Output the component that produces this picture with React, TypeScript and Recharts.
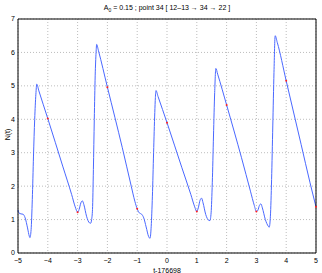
import { ComposedChart, Line, Scatter, XAxis, YAxis, CartesianGrid } from "recharts";

const tVals = [
  -5.0, -4.97, -4.9, -4.83, -4.76, -4.68, -4.62, -4.6, -4.56, -4.52, -4.48, -4.44, -4.4, -4.37, -4.3,
  -4.0, -3.5, -3.2, -3.08, -3.0, -2.95, -2.89, -2.84, -2.79, -2.7, -2.6, -2.56, -2.53, -2.5, -2.47,
  -2.44, -2.41, -2.38, -2.36, -2.3, -2.0, -1.5, -1.2, -1.08, -1.0, -0.93, -0.85, -0.78, -0.7, -0.62,
  -0.57, -0.53, -0.49, -0.45, -0.41, -0.39, -0.37, -0.3, 0.0, 0.5, 0.8, 0.93, 1.0, 1.05, 1.11, 1.16,
  1.21, 1.3, 1.4, 1.44, 1.48, 1.52, 1.56, 1.6, 1.64, 1.7, 2.0, 2.5, 2.8, 2.93, 3.0, 3.05, 3.1, 3.15,
  3.2, 3.3, 3.4, 3.43, 3.47, 3.51, 3.55, 3.59, 3.63, 3.7, 4.0, 4.5, 4.8, 5.0,
];
const nVals = [
  1.29, 1.2, 1.17, 1.16, 1.05, 0.75, 0.5, 0.46, 0.7, 1.6, 2.9, 4.0, 4.75, 5.05, 4.85,
  4.02, 2.6, 1.75, 1.38, 1.22, 1.3, 1.5, 1.56, 1.45, 1.1, 0.9, 0.89, 1.0, 1.3, 2.5,
  4.0, 5.3, 6.0, 6.24, 6.05, 4.96, 3.15, 2.0, 1.55, 1.32, 1.2, 1.16, 1.05, 0.78, 0.5,
  0.44, 0.8, 1.7, 3.0, 4.2, 4.65, 4.86, 4.68, 3.9, 2.55, 1.75, 1.38, 1.24, 1.35, 1.58, 1.64,
  1.5, 1.15, 0.98, 0.97, 1.2, 2.1, 3.5, 4.8, 5.52, 5.35, 4.43, 2.85, 1.85, 1.42, 1.24, 1.28, 1.42, 1.47,
  1.35, 1.0, 0.8, 0.77, 1.1, 2.2, 3.8, 5.4, 6.5, 6.3, 5.15, 3.25, 2.1, 1.38,
];

const markT = [-4, -3, -2, -1, 0, 1, 2, 3, 4, 5];
const markN = [4.02, 1.22, 4.96, 1.32, 3.9, 1.24, 4.43, 1.24, 5.15, 1.38];

const xTicks = [-5, -4, -3, -2, -1, 0, 1, 2, 3, 4, 5];
const yTicks = [0, 1, 2, 3, 4, 5, 6, 7];

const curve = tVals.map((t, i) => ({ t, n: nVals[i] }));
const marks = markT.map((t, i) => ({ t, n: markN[i] }));

const font = "'Liberation Sans', Arial, sans-serif";
const fmt = (v: number) => (v < 0 ? "\u2212" + Math.abs(v) : String(v));

export default function App() {
  return (
    <div style={{ position: "absolute", left: 0, top: 0, width: 322, height: 273, background: "#fff", fontFamily: font }}>
      <div style={{ position: "absolute", left: 18, width: 298, top: 4, textAlign: "center", fontSize: 7, color: "#000" }}>
        A<sub style={{ fontSize: 5 }}>0</sub> = 0.15 ; point 34 [ 12–13 → 34 → 22 ]
      </div>
      <div style={{ position: "absolute", left: -13, width: 40, top: 131, textAlign: "center", fontSize: 7, color: "#000", transform: "rotate(-90deg)" }}>
        N(t)
      </div>
      <ComposedChart width={322} height={273} data={curve} margin={{ top: 19, right: 6, bottom: 0, left: 0 }}>
        <CartesianGrid stroke="#bdbdbd" strokeDasharray="1 2" />
        <XAxis
          dataKey="t" type="number" domain={[-5, 5]} ticks={xTicks} height={20}
          tickFormatter={fmt} tickLine={false} tickSize={3} tickMargin={2}
          axisLine={{ stroke: "#000" }} tick={{ fontSize: 7, fill: "#000", fontFamily: font }}
          label={{ value: "t-176698", position: "insideBottom", offset: 0, fontSize: 7, fill: "#000", fontFamily: font }}
        />
        <XAxis xAxisId="bt" dataKey="t" type="number" domain={[-5, 5]} ticks={xTicks} mirror tick={false} tickSize={3} axisLine={false} tickLine={{ stroke: "#000" }} />
        <XAxis xAxisId="top" orientation="top" dataKey="t" type="number" domain={[-5, 5]} ticks={xTicks} mirror tick={false} tickSize={3} axisLine={{ stroke: "#000" }} tickLine={{ stroke: "#000" }} />
        <YAxis
          type="number" domain={[0, 7]} ticks={yTicks} width={18} tickLine={false} tickSize={2} tickMargin={1}
          axisLine={{ stroke: "#000" }} tick={{ fontSize: 7, fill: "#000", fontFamily: font }}
        />
        <YAxis yAxisId="lt" type="number" domain={[0, 7]} ticks={yTicks} mirror tick={false} tickSize={3} axisLine={false} tickLine={{ stroke: "#000" }} />
        <YAxis yAxisId="rt" orientation="right" type="number" domain={[0, 7]} ticks={yTicks} mirror tick={false} tickSize={3} axisLine={{ stroke: "#000" }} tickLine={{ stroke: "#000" }} />
        <Line dataKey="n" type="monotone" stroke="#4a68ff" strokeWidth={1} dot={false} isAnimationActive={false} />
        <Scatter data={marks} dataKey="n" fill="#ff2020" shape={(p: any) => <circle cx={p.cx} cy={p.cy} r={1} fill="#ff2020" />} isAnimationActive={false} />
      </ComposedChart>
    </div>
  );
}
